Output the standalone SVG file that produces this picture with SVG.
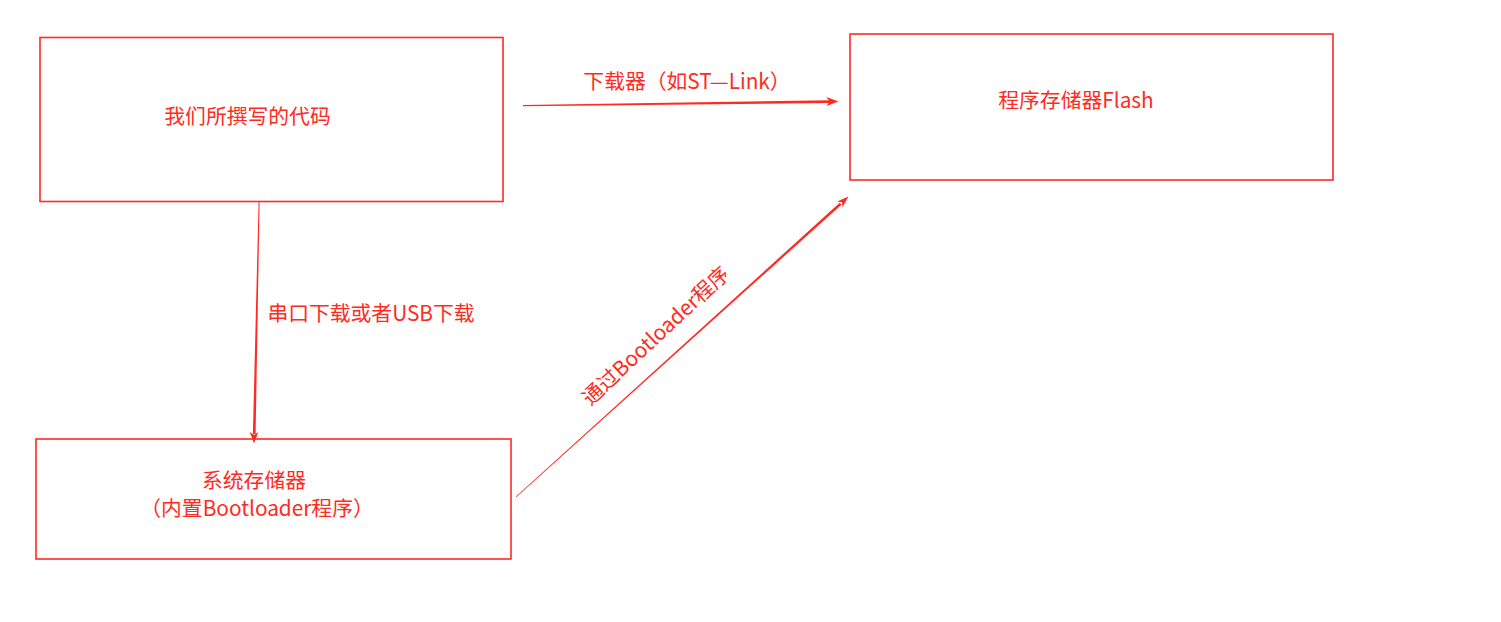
<svg xmlns="http://www.w3.org/2000/svg" width="1501" height="622" viewBox="0 0 1501 622">
<style>
.box{fill:none;stroke:#ff2a22;stroke-width:1.6}
.t{font-family:"Microsoft YaHei","Noto Sans CJK SC","Noto Sans",sans-serif;font-size:20.8px;fill:#ff2a22;text-anchor:middle}
.c{fill:#ff2a22;stroke:none}
</style>
<rect width="1501" height="622" fill="#ffffff"/>
<g id="node-code">
<rect class="box" x="40" y="37.5" width="463" height="164"/>
<text class="t" x="247.5" y="124">我们所撰写的代码</text>
</g>
<g id="node-flash">
<rect class="box" x="850" y="34" width="483" height="146"/>
<text class="t" x="1076" y="108">程序存储器Flash</text>
</g>
<g id="node-system">
<rect class="box" x="36" y="439" width="475" height="120"/>
<text class="t" x="254" y="488">系统存储器</text>
<text class="t" x="257" y="516">（内置Bootloader程序）</text>
</g>
<g id="connectors">
<polygon class="c" points="523,105 523,106.2 830,103 830,100.2"/>
<polygon class="c" points="838.5,101.5 826.5,97 829.5,101.5 826.5,106"/>
<text class="t" x="687" y="89">下载器（如ST—Link）</text>
<polygon class="c" points="258.6,202 259.6,202 255.6,434 252.9,434"/>
<polygon class="c" points="254,443.5 249.8,432 254.2,435 258.3,432"/>
<text class="t" x="371" y="321">串口下载或者USB下载</text>
<polygon class="c" points="516.27,497.3 515.73,496.7 839.73,202.74 841.47,204.66"/>
<polygon class="c" points="848.5,196.6 837.16,201.4 842.06,202.36 842.52,207.34"/>
<text class="t" transform="translate(656,336) rotate(-43)" x="0" y="7">通过Bootloader程序</text>
</g>
</svg>
